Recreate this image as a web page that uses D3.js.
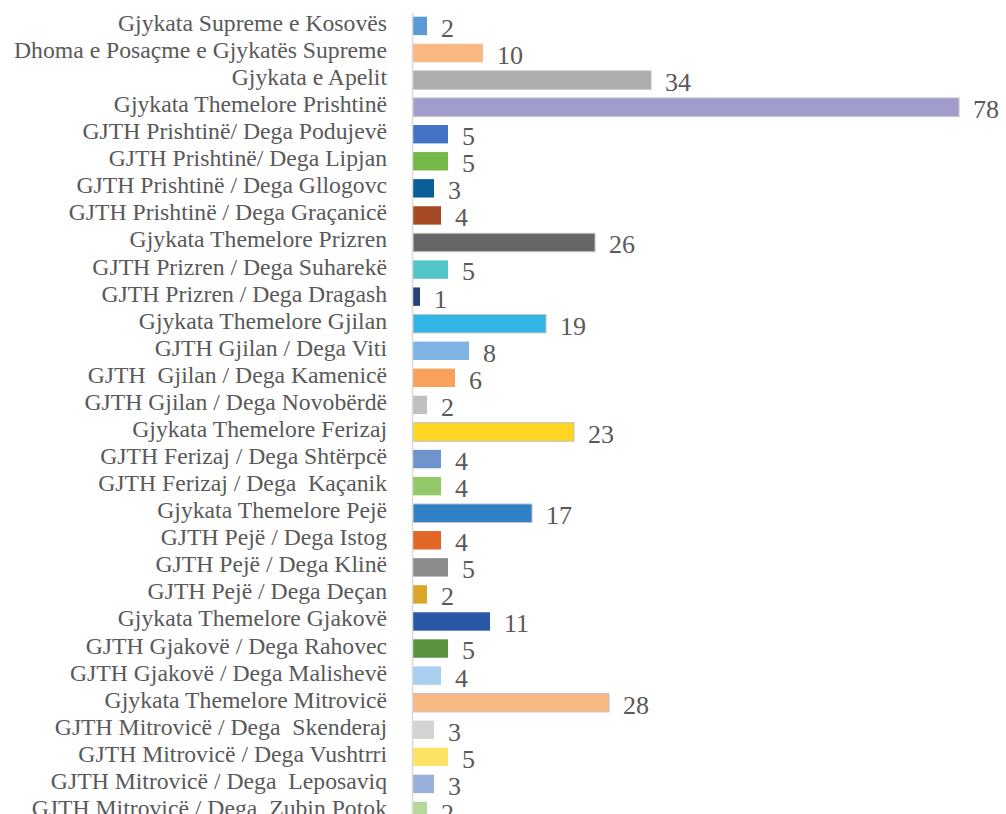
<!DOCTYPE html>
<html><head><meta charset="utf-8">
<script src="https://cdn.jsdelivr.net/npm/d3@7"></script>
</head><body style="margin:0">
<script>
const categories = [
"Gjykata Supreme e Kosovës","Dhoma e Posaçme e Gjykatës Supreme","Gjykata e Apelit","Gjykata Themelore Prishtinë",
"GJTH Prishtinë/ Dega Podujevë","GJTH Prishtinë/ Dega Lipjan","GJTH Prishtinë / Dega Gllogovc","GJTH Prishtinë / Dega Graçanicë",
"Gjykata Themelore Prizren","GJTH Prizren / Dega Suharekë","GJTH Prizren / Dega Dragash","Gjykata Themelore Gjilan",
"GJTH Gjilan / Dega Viti","GJTH  Gjilan / Dega Kamenicë","GJTH Gjilan / Dega Novobërdë","Gjykata Themelore Ferizaj",
"GJTH Ferizaj / Dega Shtërpcë","GJTH Ferizaj / Dega  Kaçanik","Gjykata Themelore Pejë","GJTH Pejë / Dega Istog",
"GJTH Pejë / Dega Klinë","GJTH Pejë / Dega Deçan","Gjykata Themelore Gjakovë","GJTH Gjakovë / Dega Rahovec",
"GJTH Gjakovë / Dega Malishevë","Gjykata Themelore Mitrovicë","GJTH Mitrovicë / Dega  Skenderaj","GJTH Mitrovicë / Dega Vushtrri",
"GJTH Mitrovicë / Dega  Leposaviq","GJTH Mitrovicë / Dega  Zubin Potok"];
const values = [2,10,34,78,5,5,3,4,26,5,1,19,8,6,2,23,4,4,17,4,5,2,11,5,4,28,3,5,3,2];
const colors = ["#5B9BD5","#FAB883","#ADADAD","#A09DCC","#4472C4","#74B845","#0B5F98","#A54A24",
"#666666","#52C5C9","#264478","#2FB5E6","#7EB4E4","#F7A15D","#C0C0C0","#FFD622",
"#6E94CC","#92C868","#2E81C4","#E06727","#8C8C8C","#D9A62A","#2A58A8","#5A9441",
"#A9CEEF","#F9B985","#D4D4D4","#FEE366","#98B0DC","#B5D99A"];

const W=1006,H=814;
const svg=d3.select("body").append("svg").attr("width",W).attr("height",H).style("display","block");
const x=d3.scaleLinear().domain([0,78]).range([413,959]);
const y=d3.scaleBand().domain(categories.map((c,i)=>i)).range([12.4,824.5]).paddingInner(0.32).paddingOuter(0.16);

svg.append("g").selectAll("rect").data(values).join("rect")
 .attr("x",x(0)).attr("y",(d,i)=>y(i)).attr("width",d=>x(d)-x(0)).attr("height",y.bandwidth())
 .attr("fill",(d,i)=>colors[i])
 .attr("stroke",d=>d>=15?"#BFBFBF":"none").attr("stroke-width",1);

const g=svg.append("g").attr("transform","translate(412,0)")
 .call(d3.axisLeft(y).tickSize(0).tickPadding(25).tickFormat(i=>categories[i]));
g.select(".domain").attr("stroke","#D9D9D9").attr("stroke-width",1.5);
g.selectAll("text").style("font-family","Liberation Serif")
 .style("font-size","23.7px").attr("fill","#595959").attr("dy","0.21em").style("white-space","pre");

svg.append("g").selectAll("text").data(values).join("text")
 .attr("x",d=>x(d)+14).attr("y",(d,i)=>y(i)+y.bandwidth()/2).attr("dy","0.42em")
 .style("font-family","Liberation Serif").style("font-size","26px").attr("fill","#595959")
 .text(d=>d);
</script>
</body></html>
